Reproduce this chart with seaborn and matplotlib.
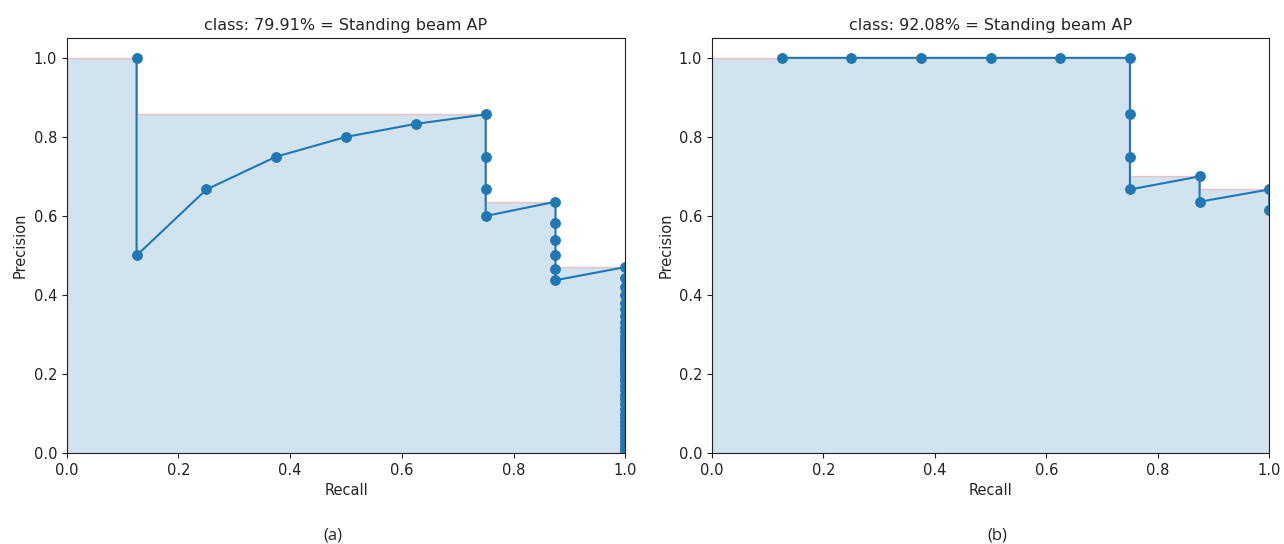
import numpy as np
import matplotlib
matplotlib.use("Agg")
import matplotlib.pyplot as plt
import seaborn as sns

# (a) precision / recall points
rec_a = [0.125, 0.125, 0.25, 0.375, 0.5, 0.625, 0.75, 0.75, 0.75, 0.75,
         0.875, 0.875, 0.875, 0.875, 0.875, 0.875, 1.0]
prec_a = [1.0, 0.5, 0.667, 0.75, 0.8, 0.833, 0.857, 0.75, 0.667, 0.6,
          0.636, 0.583, 0.538, 0.5, 0.467, 0.4375, 0.4706]
# tail of false positives at recall 1.0
tail_a = [0.444, 0.421, 0.400, 0.381, 0.364, 0.348, 0.333, 0.320, 0.308, 0.296,
          0.286, 0.276, 0.267, 0.258, 0.250, 0.242, 0.235, 0.229, 0.222, 0.216,
          0.211, 0.205, 0.200, 0.190, 0.182, 0.170, 0.160, 0.148, 0.136, 0.125,
          0.111, 0.100, 0.089, 0.080, 0.070, 0.060, 0.050, 0.040, 0.030, 0.020,
          0.010, 0.005]
rec_a = rec_a + [1.0] * len(tail_a)
prec_a = prec_a + tail_a

# (b)
rec_b = [0.125, 0.25, 0.375, 0.5, 0.625, 0.75, 0.75, 0.75, 0.75, 0.875, 0.875, 1.0, 1.0]
prec_b = [1.0, 1.0, 1.0, 1.0, 1.0, 1.0, 0.857, 0.75, 0.667, 0.7, 0.636, 0.667, 0.615]

titles = ["class: 79.91% = Standing beam AP", "class: 92.08% = Standing beam AP"]
captions = ["(a)", "(b)"]

sns.set_style("ticks")
plt.rcParams["font.family"] = ["DejaVu Sans"]


def pr_area(rec, prec):
    # VOC style interpolated precision envelope
    mrec = [0.0] + list(rec) + [1.0]
    mpre = [0.0] + list(prec) + [0.0]
    mpre = list(np.maximum.accumulate(mpre[::-1])[::-1])
    ax_x = mrec[:-1] + [mrec[-2]] + [mrec[-1]]
    ax_y = mpre[:-1] + [0.0] + [mpre[-1]]
    return ax_x, ax_y


fig = plt.figure(figsize=(12.84, 5.44), dpi=100)
positions = [[0.052, 0.167, 0.435, 0.763], [0.5545, 0.167, 0.434, 0.763]]

for i, (rec, prec) in enumerate([(rec_a, prec_a), (rec_b, prec_b)]):
    ax = fig.add_axes(positions[i])
    sns.lineplot(x=rec, y=prec, sort=False, estimator=None, marker="o",
                 color="C0", markersize=7, markeredgecolor="C0", ax=ax)
    ax_x, ax_y = pr_area(rec, prec)
    ax.fill_between(ax_x, 0, ax_y, alpha=0.2, facecolor="C0", edgecolor="r")
    ax.set_xlim(0.0, 1.0)
    ax.set_ylim(0.0, 1.05)
    ax.set_yticks([0.0, 0.2, 0.4, 0.6, 0.8, 1.0])
    ax.set_title(titles[i], fontsize=11.5)
    ax.set_xlabel("Recall", fontsize=10.5)
    ax.set_ylabel("Precision", fontsize=10.5)
    ax.tick_params(labelsize=10.5, colors="#222222")
    for s in ax.spines.values():
        s.set_color("#222222")

fig.text(0.2595, 0.008, captions[0], ha="center", fontsize=12, family=["Open Sans"])
fig.text(0.7765, 0.008, captions[1], ha="center", fontsize=12, family=["Open Sans"])

fig.savefig("out.png", dpi=100)
